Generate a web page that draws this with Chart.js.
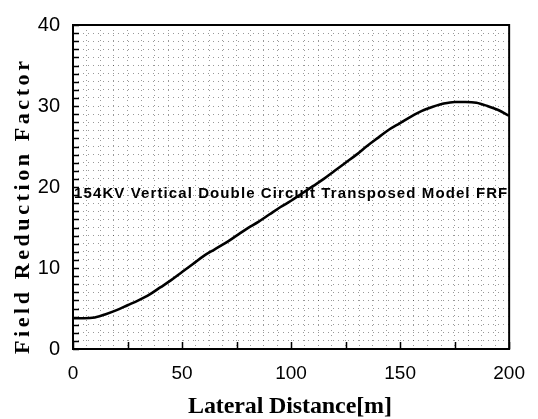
<!DOCTYPE html>
<html>
<head>
<meta charset="utf-8">
<script src="https://cdn.jsdelivr.net/npm/chart.js@4/dist/chart.umd.min.js"></script>
<style>
html,body{margin:0;padding:0;background:#fff;}
#wrap{width:538px;height:419px;position:relative;}
</style>
</head>
<body>
<div id="wrap"><canvas id="c" width="538" height="419"></canvas></div>
<script>
// ---- data ----
const distances = [0,5,10,15,20,25,30,35,40,45,50,55,60,65,70,75,80,85,90,95,100,105,110,115,120,125,130,135,140,145,150,155,160,165,170,175,180,185,190,195,200];
const frfValues = [3.8,3.8,3.9,4.3,4.8,5.4,6.0,6.7,7.6,8.5,9.5,10.5,11.5,12.3,13.1,14.0,14.9,15.7,16.6,17.5,18.3,19.2,20.1,21.0,22.0,23.0,24.0,25.1,26.1,27.1,27.9,28.7,29.4,29.9,30.3,30.5,30.5,30.4,30.0,29.5,28.8];
const xTickLabels = [0,50,100,150,200];
const yTickLabels = [0,10,20,30,40];
const xMinorTicks = [0,25,50,75,100,125,150,175,200];
const seriesLabel = "154KV Vertical Double Circuit Transposed Model FRF";
const xTitle = "Lateral Distance[m]";
const yTitle = "Field Reduction Factor";

const X_MIN = 0, X_MAX = 200, Y_MIN = 0, Y_MAX = 40;

function spacedText(ctx, text, x, y, targetWidth) {
  ctx.letterSpacing = '0px';
  const w = ctx.measureText(text).width;
  const sp = (targetWidth - w) / (text.length - 1);
  try { ctx.letterSpacing = sp.toFixed(2) + 'px'; } catch (e) {}
  ctx.fillText(text, x, y);
  try { ctx.letterSpacing = '0px'; } catch (e) {}
}

const deco = {
  id: 'deco',
  beforeDatasetsDraw(chart) {
    const {ctx, chartArea: a, scales: {x, y}} = chart;
    ctx.save();
    ctx.strokeStyle = '#000';
    ctx.lineWidth = 1.5;
    ctx.beginPath();
    for (let v = Y_MIN; v <= Y_MAX; v += 1) {
      const py = Math.round(y.getPixelForValue(v)) + 0.5;
      ctx.moveTo(a.left, py); ctx.lineTo(a.left + 6, py);
    }
    xMinorTicks.forEach(v => {
      const px = Math.round(x.getPixelForValue(v)) + 0.5;
      ctx.moveTo(px, a.bottom); ctx.lineTo(px, a.bottom - 7);
    });
    ctx.stroke();
    ctx.lineWidth = 2;
    ctx.strokeRect(a.left, a.top, a.right - a.left, a.bottom - a.top);
    ctx.restore();
  },
  afterDatasetsDraw(chart) {
    const {ctx, scales: {x, y}} = chart;
    ctx.save();
    ctx.fillStyle = '#000';
    ctx.font = 'bold 15px "Liberation Sans", Arial, sans-serif';
    ctx.textAlign = 'left';
    ctx.textBaseline = 'alphabetic';
    const x0 = x.getPixelForValue(0.5), x1 = x.getPixelForValue(199.2);
    spacedText(ctx, seriesLabel, x0, y.getPixelForValue(18.7), x1 - x0);
    ctx.restore();
  },
  afterDraw(chart) {
    const {ctx} = chart;
    ctx.save();
    ctx.fillStyle = '#000';
    ctx.textAlign = 'left';
    ctx.textBaseline = 'alphabetic';
    ctx.font = 'bold 24px "Liberation Serif", "Times New Roman", serif';
    spacedText(ctx, xTitle, 188, 413, 204);
    ctx.translate(29, 208);
    ctx.rotate(-Math.PI / 2);
    ctx.font = 'bold 22px "Liberation Serif", "Times New Roman", serif';
    spacedText(ctx, yTitle, -146, 0, 293);
    ctx.restore();
  }
};

new Chart(document.getElementById('c'), {
  type: 'line',
  data: {
    labels: distances,
    datasets: [{
      label: seriesLabel,
      data: distances.map((d, i) => ({x: d, y: frfValues[i]})),
      borderColor: '#000',
      borderWidth: 2.6,
      pointRadius: 0,
      fill: false,
      cubicInterpolationMode: 'monotone'
    }]
  },
  options: {
    responsive: false,
    animation: false,
    layout: {padding: {top: 13, right: 26, left: 0, bottom: 0}},
    plugins: {legend: {display: false}, tooltip: {enabled: false}, title: {display: false}},
    scales: {
      x: {
        type: 'linear', min: X_MIN, max: X_MAX,
        afterFit(s) { s.height = 70; },
        grid: {color: 'rgba(0,0,0,0.4)', lineWidth: 1, drawTicks: false},
        border: {display: false, dash: [1, 4]},
        ticks: {
          stepSize: 6.25, autoSkip: false, maxRotation: 0, padding: 13, color: '#000',
          font: {family: '"Liberation Sans", Arial, sans-serif', size: 19},
          callback: v => xTickLabels.includes(v) ? String(v) : ''
        }
      },
      y: {
        type: 'linear', min: Y_MIN, max: Y_MAX,
        afterFit(s) { s.width = 73; },
        grid: {color: 'rgba(0,0,0,0.4)', lineWidth: 1, drawTicks: false},
        border: {display: false, dash: [1, 4]},
        ticks: {
          stepSize: 1, autoSkip: false, padding: 13, color: '#000',
          font: {family: '"Liberation Sans", Arial, sans-serif', size: 20},
          callback: v => yTickLabels.includes(v) ? String(v) : ''
        }
      }
    }
  },
  plugins: [deco]
});
</script>
</body>
</html>
